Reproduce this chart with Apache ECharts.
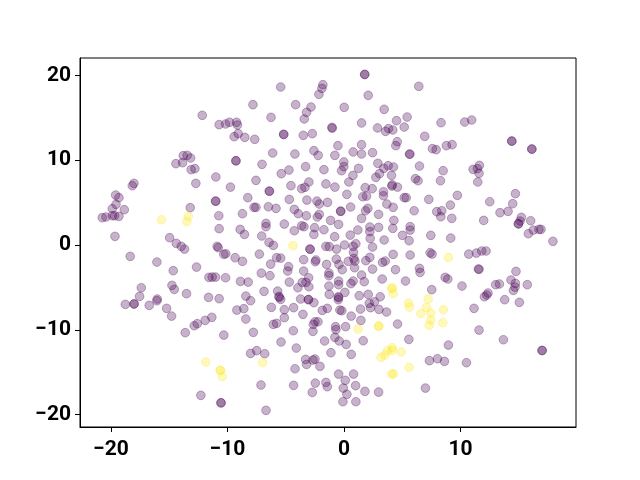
<!DOCTYPE html>
<html><head><meta charset="utf-8">
<style>html,body{margin:0;padding:0;background:#fff}#c{width:640px;height:480px}</style>
<script src="https://cdn.jsdelivr.net/npm/echarts@6/dist/echarts.min.js"></script>
</head><body><div id="c"></div>
<script>
const xTickValues = [-20, -10, 0, 10];
const yTickValues = [-20, -10, 0, 10, 20];
const purplePoints = [
[-12.17,15.29],[-10.72,14.19],[-10.17,14.27],[-9.83,14.47],[-9.23,14.47],[-9.15,14.15],[-9.09,13.13],[-9.43,12.77],[-8.52,12.69],[-7.82,16.55],
[-13.80,10.53],[-13.46,10.57],[-13.17,10.26],[-13.86,9.71],[-14.43,9.59],[-13.12,8.88],[-12.80,9.0],[-11.0,8.02],[-9.29,9.94],[-9.27,9.92],
[1.78,20.12],[1.76,20.10],[-5.44,18.63],[-1.82,18.9],[-1.90,18.47],[-2.16,17.77],[2.07,17.65],[-4.16,16.55],[-2.84,16.27],[-3.22,15.64],[-3.42,14.86],
[0.01,16.23],[3.44,16.0],[-6.27,15.05],[4.50,14.66],[5.41,15.09],[1.50,14.39],[2.87,13.8],[3.56,13.40],[3.81,13.72],[4.18,13.56],[5.16,13.91],
[-5.19,13.05],[-5.17,13.03],[-1.04,13.87],[-1.02,13.77],[-3.50,12.93],[-2.73,13.13],[-7.67,12.46],[-0.53,11.71],[1.50,11.83],[-2.59,11.12],[-2.22,10.57],
[-6.13,10.85],[-4.22,10.73],[-0.79,10.57],[0.78,10.97],[1.50,10.73],[2.44,10.89],[4.56,12.18],[4.44,11.71],[5.62,10.73],[5.64,10.70],
[-7.04,9.51],[-5.39,8.41],[-4.73,8.84],[-3.30,9.24],[-1.73,8.88],[-0.02,9.79],[-0.02,9.24],[-0.22,8.76],[1.24,9.04],[0.76,8.21],[2.90,9.63],[3.41,9.04],
[3.78,9.35],[4.24,9.20],[3.04,8.41],[2.73,7.98],[4.07,8.21],[0.41,7.43],[-7.56,7.62],[-3.02,7.43],[-1.56,7.2],[-4.56,7.0],[4.13,7.1],
[6.41,18.71],[8.32,14.42],[10.35,14.50],[10.95,14.74],[6.92,12.81],[14.38,12.26],[14.40,12.24],[16.10,11.32],[16.12,11.30],[7.58,11.36],[7.90,11.24],[8.78,11.71],[9.27,11.83],
[6.47,9.31],[8.50,8.76],[11.07,8.92],[11.44,9.0],[11.61,9.39],[11.58,8.45],[11.47,7.43],[6.12,7.82],[6.35,7.58],[8.27,7.58],
[-18.03,7.27],[-18.17,6.99],[-12.72,7.27],[-9.75,6.83],[-19.60,5.89],[-19.32,5.58],[-11.03,5.18],[-11.01,5.16],[-8.26,5.58],[-13.20,4.40],[-19.57,4.79],[-19.89,4.28],[-18.86,4.16],
[-20.75,3.22],[-20.43,3.30],[-19.89,3.45],[-19.69,3.45],[-19.32,3.38],[-10.75,3.45],[-8.72,3.69],[-10.72,1.92],[-8.92,1.84],[-8.55,1.25],[-19.66,1.02],
[-14.97,0.86],[-14.40,0.19],[-13.97,-0.16],[-13.69,-0.48],[-10.89,-0.16],[-10.80,-0.32],[-10.15,-1.03],[-10.32,-1.1],[-9.35,-1.50],[-8.72,-1.93],[-18.35,-1.34],[-16.06,-2.01],
[-12.66,-2.60],[-14.66,-3.03],[-11.60,-3.82],[-11.32,-3.78],[-11.03,-3.78],[-10.17,-3.86],[-8.89,-4.29],[-8.23,-4.37],[-17.40,-5.04],[-17.55,-6.06],[-14.77,-4.76],[-14.57,-5.23],
[-13.52,-5.74],[-11.63,-6.18],[-10.72,-6.33],[-8.43,-6.02],
[-18.77,-7.0],[-18.03,-6.96],[-18.01,-6.94],[-16.72,-7.12],[-16.03,-6.37],[-16.06,-6.57],[-15.23,-7.47],[-14.80,-8.38],[-9.20,-7.67],[-8.60,-7.51],[-8.43,-8.73],[-11.35,-8.53],
[-11.92,-8.89],[-12.60,-9.28],[-12.86,-9.52],[-13.63,-10.34],[-10.32,-10.62],[-12.29,-17.73],[-10.57,-18.60],[-10.55,-18.62],
[-0.79,6.83],[-3.64,6.64],[-3.36,6.80],[-6.42,6.36],[-6.40,6.34],[0.24,5.97],[1.81,6.76],[2.41,6.64],[1.93,5.77],[1.60,5.69],[3.38,6.28],[3.38,5.81],[4.10,6.95],[4.58,6.83],
[5.16,5.58],[5.33,5.58],[-4.70,5.38],[-3.19,5.30],[-2.33,5.18],[-2.13,4.83],[-1.42,5.03],[3.67,4.83],[4.21,4.44],[-7.73,4.44],[-7.56,4.44],[-6.50,4.51],[-5.84,4.32],[-4.27,4.20],
[-3.93,3.69],[-3.24,3.45],[-0.30,3.99],[-0.28,3.97],[0.56,4.48],[2.04,4.32],[1.84,4.04],[1.50,3.14],[2.96,3.61],[-2.13,3.61],[-2.30,3.30],[-1.16,2.90],[-0.47,2.43],[4.27,2.90],
[-5.13,2.47],[-6.70,2.55],[-6.70,2.16],[-3.64,2.27],[-3.44,2.16],[-2.53,2.04],[-2.59,1.25],[-4.27,1.68],[-1.73,1.80],[1.18,1.77],[2.21,2.12],[2.96,2.08],[4.18,1.96],[2.21,1.57],
[2.24,0.78],[-0.81,0.98],[0.53,1.17],[-7.07,1.06],[3.44,0.59],[5.01,1.14],[-6.44,0.31],[-6.07,-0.04],[-2.93,-0.48],[-2.91,-0.50],[-1.56,-0.16],[-1.27,-0.20],[-0.64,-0.48],[0.04,0.0],
[0.78,-0.16],[1.01,0.15],[2.44,-0.24],[0.81,-0.87],[0.84,-1.58],[-7.27,-1.07],[-5.79,-1.50],[-5.44,-1.54],[-6.30,-2.25],[-3.47,-1.73],[-2.42,-1.77],[-2.47,-1.97],[-1.50,-2.29],
[-0.67,-1.66],[-0.44,-2.29],[-0.16,-2.91],[0.36,-1.93],[0.93,-1.89],[0.90,-2.68],[1.87,-1.85],[2.21,-1.46],[2.44,-2.84],[3.30,-2.05],[3.53,-1.89],[4.21,-1.11],[4.41,-2.91],
[-4.76,-2.56],[-4.84,-3.07],[-3.47,-3.07],[-1.30,-3.31],[-1.30,-3.62],[-7.10,-3.31],[-6.36,-3.62],[1.50,-3.54],[0.78,-4.25],[0.59,-4.56],[1.73,-4.33],[3.27,-4.01],[5.27,-4.25],
[-4.70,-4.37],[-3.04,-3.86],[-3.27,-4.41],[-3.59,-4.41],[-3.02,-4.92],[-3.96,-5.04],[-0.47,-4.25],[-0.47,-4.68],[-1.30,-4.84],[-1.27,-5.82],[0.07,-5.59],[-0.50,-6.10],[1.30,-5.98],
[2.07,-5.82],[3.10,-6.10],[-6.87,-5.47],[-5.70,-5.43],[-5.59,-6.06],[-5.56,-6.18],[-8.02,-6.57],[-7.79,-10.30],[-6.24,-7.35],[-5.44,-6.41],[-5.13,-7.63],[-5.13,-8.57],[-4.33,-7.39],
[-3.73,-6.37],[-3.07,-6.45],[-3.05,-6.43],[-2.59,-6.80],[-3.53,-8.18],[-1.87,-7.71],[-1.44,-7.47],[-0.50,-6.45],[-0.47,-6.21],[-0.36,-7.67],[-0.19,-7.75],[0.61,-8.38],[1.41,-7.55],
[1.44,-8.89],[2.16,-6.88],[2.61,-6.69],[2.27,-7.39],[2.99,-7.59],[3.64,-7.90],[4.59,-9.32],[5.56,-11.13],[-6.07,-9.36],[-5.79,-9.24],[-4.36,-10.11],[-2.64,-9.36],[-2.50,-9.05],[-2.24,-9.05],
[-2.67,-10.18],[-0.73,-9.63],[-0.70,-9.98],[0.13,-9.63],[-0.79,-10.89],[-0.42,-11.32],[0.18,-11.72],[-1.67,-11.32],[-5.41,-11.44],[1.64,-11.29],[-4.10,-12.15],[-7.50,-12.46],[-8.02,-12.78],
[-6.81,-12.82],[-1.13,-12.70],[0.61,-12.90],[-3.30,-13.49],[-3.22,-14.08],[-2.67,-13.57],[-2.50,-13.45],[-2.07,-14.31],[-4.21,-14.59],[-0.47,-15.22],[0.81,-15.22],[0.10,-15.96],
[-2.47,-16.28],[-1.56,-16.20],[-1.44,-16.71],[-7.13,-16.51],[-4.33,-16.55],[-0.07,-16.87],[0.99,-16.59],[1.79,-17.26],[2.96,-17.34],[-2.73,-17.38],[0.24,-17.61],[-0.10,-18.48],[1.01,-18.48],[-6.70,-19.50],
[12.04,-6.10],[12.24,-5.90],[12.35,-5.66],[13.78,-6.45],[15.04,-6.76],[11.15,-7.47],[11.58,-10.03],[13.67,-11.17],[16.98,-12.43],[17.00,-12.45],[8.95,-11.80],[7.32,-13.64],[8.01,-13.41],[8.61,-13.72],[10.50,-13.88],[6.98,-16.87],
[14.70,6.05],[9.72,5.85],[7.27,5.38],[9.12,4.71],[12.50,5.10],[14.47,4.87],[6.01,4.04],[7.95,3.93],[8.38,4.04],[8.30,3.34],[9.24,3.14],[13.38,3.81],[14.07,3.97],[11.98,2.90],[15.21,3.26],
[16.01,2.86],[15.10,2.83],[14.95,2.51],[14.97,2.49],[16.24,1.76],[16.72,1.84],[16.90,1.84],[15.81,1.33],[17.92,0.43],[5.67,2.16],[5.67,1.76],[5.58,0.51],[7.44,1.14],[9.15,0.82],
[10.70,-1.07],[11.35,-0.95],[11.81,-0.71],[12.18,-0.71],[5.67,-1.18],[7.38,-0.91],[7.55,-1.07],[11.52,-2.83],[11.58,-2.87],[6.47,-2.76],[6.52,-3.23],[8.67,-3.82],[8.90,-4.01],[10.12,-4.84],[7.52,-5.27],
[14.75,-3.11],[14.32,-4.13],[14.70,-4.53],[14.67,-4.96],[14.53,-5.35],[15.72,-4.68],[13.01,-4.68],[13.33,-4.60]
];
const yellowPoints = [
[-15.66,2.98],[-13.37,3.38],[-13.49,2.75],[-11.86,-13.80],[-10.63,-14.78],[-10.61,-14.80],[-10.46,-15.53],[-4.39,-0.08],[4.10,-5.11],[4.12,-5.09],[4.21,-5.74],
[1.21,-9.91],[2.96,-9.56],[2.98,-9.58],[-6.99,-13.88],[3.16,-13.25],[3.50,-12.98],[3.73,-12.46],[4.13,-12.11],[4.13,-12.42],[4.90,-12.62],[5.58,-14.43],[4.07,-15.22],[4.24,-15.18],
[5.52,-6.84],[5.61,-7.32],[7.21,-6.37],[7.07,-7.35],[6.58,-8.10],[7.44,-8.02],[8.52,-7.63],[7.44,-8.85],[8.47,-9.16],[7.30,-9.48],[8.95,-1.46]
];
const tickFont = {fontFamily:'Roboto',fontWeight:'bold',fontSize:21,color:'#000'};
const fmt = v => String(v).replace('-','\u2212');
const axisBase = {
  type:'value', splitLine:{show:false},
  axisLine:{show:true,onZero:false,lineStyle:{color:'#000',width:1}}
};
const mkSeries = (data,color) => ({
  type:'scatter', data, symbol:'circle', symbolSize:8.7,
  itemStyle:{color,opacity:0.3,borderColor:color,borderWidth:1},
  emphasis:{disabled:true}, silent:true, animation:false
});
const chart = echarts.init(document.getElementById('c'),null,{renderer:'canvas'});
chart.setOption({
  animation:false, backgroundColor:'#fff',
  grid:{left:80,right:64,top:58,bottom:53,show:true,borderColor:'#000',borderWidth:1,backgroundColor:'#fff'},
  xAxis:Object.assign({},axisBase,{min:-22.66,max:19.9,
    axisTick:{show:true,length:5,lineStyle:{color:'#000',width:1},customValues:xTickValues},
    axisLabel:Object.assign({},tickFont,{margin:12,formatter:fmt,customValues:xTickValues})}),
  yAxis:Object.assign({},axisBase,{min:-21.46,max:22.05,
    axisTick:{show:true,length:5,lineStyle:{color:'#000',width:1},customValues:yTickValues},
    axisLabel:Object.assign({},tickFont,{margin:9,lineHeight:28,padding:[5,0,0,0],formatter:fmt,customValues:yTickValues})}),
  series:[mkSeries(purplePoints,'#440154'),mkSeries(yellowPoints,'#fde725')]
});
</script></body></html>
